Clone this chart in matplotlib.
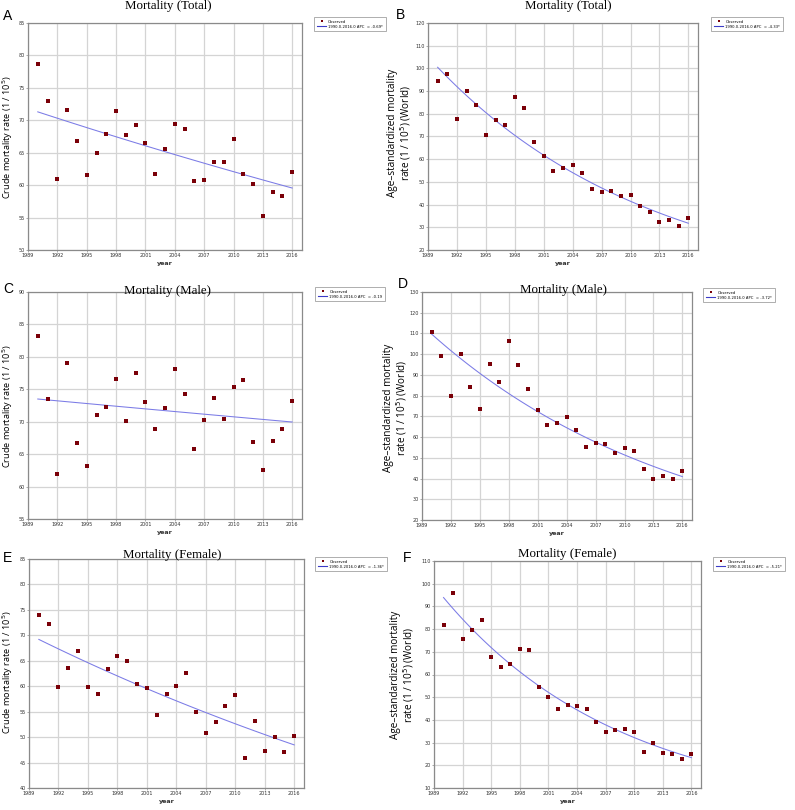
import numpy as np
import matplotlib
matplotlib.use('Agg')
from matplotlib import pyplot as plt
from matplotlib.lines import Line2D

years = list(range(1990, 2017))

# 관측값 (1/10^5)
crude_total = [78.7, 72.9, 60.9, 71.6, 66.8, 61.6, 64.9, 67.9, 71.5, 67.7, 69.2, 66.5, 61.7,
               65.5, 69.4, 68.7, 60.6, 60.8, 63.6, 63.6, 67.1, 61.7, 60.1, 55.2, 58.9, 58.3, 62.1]
asr_total = [94.6, 97.5, 77.8, 90.2, 83.7, 70.7, 77.1, 75.0, 87.2, 82.4, 67.4, 61.3, 54.9,
             56.2, 57.4, 53.8, 46.8, 45.7, 45.9, 43.7, 44.4, 39.4, 36.9, 32.5, 33.1, 30.7, 34.1]
crude_male = [83.2, 73.5, 61.9, 79.0, 66.7, 63.2, 71.0, 72.2, 76.6, 70.1, 77.5, 73.0, 68.8,
              72.1, 78.2, 74.3, 65.8, 70.3, 73.7, 70.4, 75.3, 76.4, 66.8, 62.6, 67.1, 68.9, 73.2]
asr_male = [110.7, 99.1, 79.8, 100.2, 84.1, 73.5, 95.1, 86.4, 106.2, 94.6, 83.1, 73.3, 65.8,
            66.9, 69.6, 63.3, 55.1, 57.2, 56.9, 52.1, 54.6, 53.4, 44.5, 39.8, 41.3, 39.7, 43.4]
crude_female = [73.9, 72.2, 59.9, 63.6, 67.0, 59.9, 58.5, 63.3, 65.9, 65.0, 60.4, 59.6, 54.3,
                58.4, 60.0, 62.6, 55.0, 50.8, 53.0, 56.2, 58.2, 45.8, 53.1, 47.2, 50.0, 47.0, 50.2]
asr_female = [81.6, 95.8, 75.5, 79.5, 83.9, 67.9, 63.1, 64.7, 71.4, 70.9, 54.3, 50.0, 44.6,
              46.4, 46.1, 44.9, 39.0, 34.5, 35.4, 36.0, 34.5, 26.0, 29.8, 25.4, 25.0, 22.6, 25.1]

# 추세선: 1990년 값, APC(%)
fit_start = [71.3, 100.5, 73.5, 109.7, 69.2, 93.9]
apc = [-0.69, -4.33, -0.19, -3.72, -1.36, -5.21]
apc_sig = [True, True, False, True, True, True]

letters = ['A', 'B', 'C', 'D', 'E', 'F']
titles = ['Mortality (Total)', 'Mortality (Total)', 'Mortality (Male)',
          'Mortality (Male)', 'Mortality (Female)', 'Mortality (Female)']
series = [crude_total, asr_total, crude_male, asr_male, crude_female, asr_female]
ylims = [(50, 85), (20, 120), (55, 90), (20, 130), (40, 85), (10, 110)]
ysteps = [5, 10, 5, 10, 5, 10]
crude_label = 'Crude mortality rate (1 / 10$^5$)'
asr_label = 'Age\u2013standardized mortality\nrate (1 / 10$^5$) (World)'

W, H = 795, 810
fig = plt.figure(figsize=(W / 100, H / 100), dpi=100)

# 픽셀 위치 (left, top, right, bottom)
ax_px = [(28, 23, 302, 250), (428, 23, 698, 250),
         (28, 292, 302, 519), (422, 292, 692, 520),
         (29, 559, 304, 788), (434, 561, 701, 788)]
title_px = [(168, 6), (568, 6), (167, 291), (563, 290), (172, 555), (567, 554)]
letter_px = [(3, 16), (396, 15), (3, 289), (398, 284), (3, 558), (403, 558)]
ylab_px = [(8, 137), (400, 133), (8, 406), (396, 408), (8, 672), (403, 675)]
leg_px = [(314, 17), (711, 17), (315, 287), (703, 288), (315, 557), (713, 557)]

pt_color = '#7a0008'
line_color = '#7b7be6'
grid_color = '#d4d4d4'
spine_color = '#8a8a8a'

for i in range(6):
    l, t, r, b = ax_px[i]
    ax = fig.add_axes([l / W, 1 - b / H, (r - l) / W, (b - t) / H])
    ax.plot(years, series[i], 's', color=pt_color, markersize=2.3, markeredgewidth=0,
            zorder=3)
    fx = np.linspace(1990, 2016, 100)
    fy = fit_start[i] * (1 + apc[i] / 100) ** (fx - 1990)
    ax.plot(fx, fy, color=line_color, lw=0.75, zorder=2)

    ax.set_xlim(1989, 2017)
    ax.set_ylim(*ylims[i])
    ax.set_xticks(range(1989, 2017, 3))
    ax.set_yticks(np.arange(ylims[i][0], ylims[i][1] + 0.1, ysteps[i]))
    ax.grid(True, color=grid_color, lw=0.9)
    ax.set_axisbelow(True)
    for s in ax.spines.values():
        s.set_color(spine_color)
        s.set_linewidth(0.9)
    ax.tick_params(labelsize=3.5, length=1.2, width=0.5, color=spine_color,
                   labelcolor='#333333', pad=1.2)
    ax.set_xlabel('year', fontsize=4.6, fontweight='bold', labelpad=2, color='#333333')

    tx, ty = title_px[i]
    fig.text(tx / W, 1 - ty / H, titles[i], fontsize=9.3, family='Liberation Serif',
             ha='center', va='center')
    lx, ly = letter_px[i]
    fig.text(lx / W, 1 - ly / H, letters[i], fontsize=10, family='Liberation Sans',
             ha='left', va='center')
    yx, yy = ylab_px[i]
    if i % 2 == 0:
        fig.text(yx / W, 1 - yy / H, crude_label, fontsize=6.6, family='Open Sans',
                 rotation=90, ha='center', va='center')
    else:
        fig.text(yx / W, 1 - yy / H, asr_label, fontsize=7.2, family='Open Sans',
                 rotation=90, ha='center', va='center', multialignment='center',
                 linespacing=0.95)

    apc_txt = '1990.0-2016.0 APC  = %.2f' % apc[i] + ('*' if apc_sig[i] else '')
    handles = [Line2D([], [], marker='s', ls='none', color=pt_color, markersize=1.5,
                      markeredgewidth=0),
               Line2D([], [], color='#3c3cc8', lw=0.8)]
    gx, gy = leg_px[i]
    leg = ax.legend(handles, ['Observed', apc_txt], loc='upper left',
                    bbox_to_anchor=(gx / W, 1 - gy / H), bbox_transform=fig.transFigure,
                    fontsize=2.7, frameon=True, fancybox=False, borderpad=0.7,
                    handlelength=2.6, handletextpad=0.5, labelspacing=0.3,
                    borderaxespad=0)
    leg.get_frame().set_edgecolor(spine_color)
    leg.get_frame().set_linewidth(0.6)

fig.savefig('out.png', dpi=100)
